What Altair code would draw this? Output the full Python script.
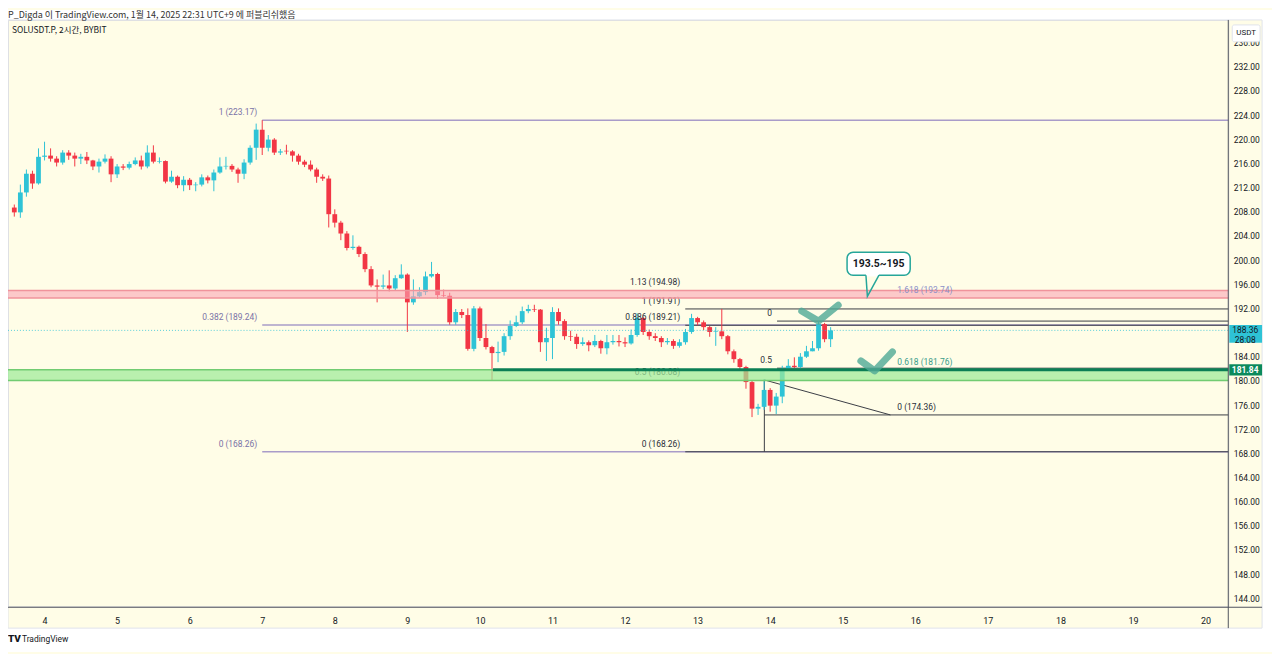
import altair as alt
import pandas as pd

HEADER = "P_Digda 이 TradingView.com, 1월 14, 2025 22:31 UTC+9 에 퍼블리쉬했음"
SYMBOL = "SOLUSDT.P, 2시간, BYBIT"
CALLOUT = "193.5~195"

START_DAY = 3 + 7 / 12   # first 2h candle
STEP_DAY = 1 / 12        # 2 hours

opens = [
    208.7, 207.9, 211.2, 214.3, 212.7, 217.1, 217.3, 216.8, 216.15, 217.8,
    217.3, 216.8, 217.1, 216.5, 215.5, 216.3, 216.8, 214.2, 215.5, 215.3,
    215.9, 216.5, 215.5, 217.8, 216.3, 216.4, 213.0, 213.8, 212.4, 213.3,
    212.4, 212.5, 213.7, 213.2, 214.5, 215.5, 215.6, 215.0, 214.3, 216.15,
    218.6, 221.6, 218.6, 219.95, 217.8, 218.1, 218.0, 217.3, 216.3, 215.8,
    215.0, 213.8, 213.5, 207.6, 206.2, 204.4, 202.0, 202.2, 201.0, 198.5,
    195.8, 195.6, 195.8, 195.3, 197.0, 197.6, 193.0, 194.0, 194.7, 197.3,
    197.7, 194.2, 194.1, 189.7, 191.4, 190.9, 185.3, 192.0, 187.1, 185.6,
    184.6, 184.8, 187.4, 189.1, 189.7, 191.55, 191.9, 191.8, 186.4, 187.1,
    191.4, 189.9, 187.4, 187.3, 186.1, 186.4, 185.9, 186.6, 185.4, 186.4,
    186.6, 186.4, 186.2, 187.6, 190.4, 188.1, 187.4, 187.1, 186.4, 186.6,
    185.8, 186.4, 188.1, 190.4, 189.7, 188.9, 188.1, 188.2, 187.4, 184.9,
    183.6, 182.3, 179.8, 175.4, 175.7, 178.5, 175.9, 177.4, 182.0, 182.5,
    182.3, 184.0, 184.9, 185.4, 189.4, 186.9,
]
highs = [
    209.2, 212.5, 215.0, 214.8, 218.5, 219.6, 218.5, 217.2, 218.2, 218.2,
    217.8, 217.6, 217.9, 216.6, 216.8, 217.5, 217.2, 215.9, 215.9, 216.3,
    217.0, 217.3, 219.0, 219.0, 217.0, 216.5, 214.8, 214.0, 213.9, 213.6,
    212.9, 214.2, 214.0, 215.0, 217.0, 217.1, 215.9, 215.3, 216.7, 219.0,
    222.6, 223.17, 220.7, 220.2, 218.4, 219.1, 218.2, 217.6, 216.6, 216.5,
    215.3, 214.2, 214.0, 208.4, 206.5, 204.8, 204.1, 202.4, 201.3, 199.0,
    196.8, 197.6, 198.3, 197.5, 199.3, 197.8, 196.8, 195.5, 198.1, 199.7,
    197.9, 195.1, 194.6, 191.9, 191.9, 192.0, 192.4, 192.3, 189.4, 185.8,
    186.5, 187.9, 190.0, 190.8, 192.3, 192.6, 192.6, 191.9, 188.8, 192.2,
    192.0, 190.2, 188.3, 187.8, 187.2, 186.7, 187.6, 186.8, 187.6, 187.6,
    187.6, 187.2, 188.5, 191.2, 190.6, 188.5, 187.9, 187.4, 187.1, 186.9,
    186.9, 188.6, 191.1, 190.6, 190.0, 189.1, 188.9, 191.91, 187.6, 185.2,
    183.8, 182.5, 180.0, 176.2, 180.3, 178.8, 178.0, 182.5, 183.6, 183.9,
    184.6, 185.8, 186.6, 189.9, 189.6, 188.9,
]
lows = [
    207.2, 207.0, 210.5, 211.8, 212.5, 216.5, 216.3, 215.5, 215.8, 216.6,
    215.5, 215.9, 215.9, 214.9, 214.5, 216.0, 212.9, 213.6, 214.9, 215.0,
    215.7, 215.0, 215.2, 216.0, 216.0, 212.7, 212.8, 211.9, 211.4, 211.6,
    211.4, 212.2, 212.7, 211.4, 214.3, 215.0, 214.6, 212.8, 213.4, 215.8,
    216.6, 217.4, 218.0, 217.4, 217.4, 217.5, 216.3, 215.8, 215.4, 214.7,
    212.8, 213.1, 205.4, 205.4, 203.3, 201.6, 201.7, 200.5, 198.0, 195.5,
    193.0, 195.2, 194.8, 194.9, 196.9, 188.1, 192.6, 193.8, 194.2, 197.1,
    193.6, 193.9, 189.3, 189.3, 190.4, 185.0, 184.9, 186.6, 185.2, 180.06,
    183.1, 184.2, 186.8, 188.9, 189.4, 191.2, 191.4, 184.8, 183.3, 183.6,
    189.3, 186.8, 186.6, 185.3, 185.8, 184.9, 185.6, 184.5, 184.4, 186.0,
    185.7, 185.6, 186.0, 187.3, 187.6, 186.8, 186.6, 185.6, 186.0, 185.3,
    185.5, 186.0, 187.8, 189.2, 188.4, 187.3, 185.8, 186.9, 184.4, 183.0,
    181.9, 178.7, 174.0, 174.36, 175.2, 174.9, 174.5, 176.3, 181.8, 181.9,
    181.9, 183.8, 184.9, 185.0, 186.4, 185.6,
]
closes = [
    207.9, 211.2, 214.3, 212.7, 217.1, 217.3, 216.8, 216.15, 217.8, 217.3,
    216.8, 217.1, 216.5, 215.5, 216.3, 216.8, 214.2, 215.5, 215.3, 215.9,
    216.5, 215.5, 217.8, 216.3, 216.4, 213.0, 213.8, 212.4, 213.3, 212.4,
    212.5, 213.7, 213.2, 214.5, 215.5, 215.6, 215.0, 214.3, 216.15, 218.6,
    221.6, 218.6, 219.95, 217.8, 218.0, 218.0, 217.3, 216.3, 215.8, 215.0,
    213.8, 213.5, 207.6, 206.2, 204.4, 202.0, 202.2, 201.0, 198.5, 195.8,
    195.6, 195.8, 195.3, 197.0, 197.6, 193.0, 194.0, 194.7, 197.3, 197.7,
    194.2, 194.1, 189.7, 191.4, 190.9, 185.3, 192.0, 187.1, 185.6, 184.6,
    184.8, 187.4, 189.1, 189.7, 191.55, 191.9, 191.8, 186.4, 187.1, 191.4,
    189.9, 187.4, 187.3, 186.1, 186.4, 185.9, 186.6, 185.4, 186.4, 186.6,
    186.4, 186.2, 187.6, 190.4, 188.1, 187.4, 187.1, 186.4, 186.6, 185.8,
    186.4, 188.1, 190.4, 189.7, 188.9, 188.1, 188.2, 187.4, 184.9, 183.6,
    182.3, 179.8, 175.4, 175.7, 178.5, 175.9, 177.4, 182.0, 182.5, 182.3,
    184.0, 184.9, 185.4, 189.4, 186.9, 188.36,
]

# Fib tools / annotations (day, price)
fibA_day = 7.0
fibA_ratios = ["1", "0.382", "0"]
fibA_levels = [223.17, 189.24, 168.26]

fibB_day = 12.83
fibB_ratios = ["1.13", "1", "0.886", "0.5", "0"]
fibB_levels = [194.98, 191.91, 189.21, 180.08, 168.26]
fibB_line_levels = [191.91, 189.21, 168.26]

fibC_day = 14.095
fibC_ratios = ["0", "0.5"]
fibC_levels = [189.9, 182.1]

fibD_start = (13.92, 180.16)
fibD_end = (15.657, 174.36)
fibD_levels = [174.36, 181.76, 193.74]
fibD_ratios = ["0", "0.618", "1.618"]

red_zone = (194.98, 193.74)
green_zone = (181.84, 180.08)
green_line_day = 10.18
green_line_level = 181.84
last_price = 188.36
countdown = "28:08"

callout_box = (15.06, 15.93, 201.3, 197.5)
callout_tail_x = [15.32, 15.34, 15.50]
callout_tail_p = [197.5, 194.0, 197.5]

check1_x = [14.435, 14.666, 14.938]
check1_p = [191.55, 189.9, 192.54]
check2_x = [15.25, 15.44, 15.685]
check2_p = [183.3, 181.65, 184.8]

x_ticks = list(range(4, 21))
# 188.00 sits under the last-price label, so it is not drawn
y_ticks = [v for v in range(144, 240, 4) if v != 188]

# ---------------------------------------------------------------
UP = "#2ec3d6"
DN = "#f23645"
LAV = "#a99cc9"
LAVTXT = "#7a72a6"
INK = "#131722"
CREAM = "#fffde7"
FONT = "Roboto"

PW, PH = 1228, 590
xs = alt.Scale(domain=[3.565, 20.245], nice=False, zero=False)
ys = alt.Scale(domain=[142.68, 239.76], nice=False, zero=False)
AX = alt.Axis(values=x_ticks, format="d", ticks=False, domain=False, grid=False,
              labelPadding=10, labelFontSize=9, labelColor=INK, labelFont=FONT,
              title=None, orient="bottom")
AY = alt.Axis(values=y_ticks, format=".2f", ticks=False, domain=False, grid=False,
              labelPadding=5, labelFontSize=8.5, labelColor=INK, labelFont=FONT,
              title=None, orient="right", labelAlign="left")


def X(f):
    return alt.X(f, type="quantitative", scale=xs, axis=AX)


def Y(f):
    return alt.Y(f, type="quantitative", scale=ys, axis=AY)


one = pd.DataFrame({"k": [0]})

df = pd.DataFrame({"o": opens, "h": highs, "l": lows, "c": closes})
df["t"] = [START_DAY + i * STEP_DAY for i in range(len(df))]
candle_color = alt.condition("datum.c >= datum.o", alt.value(UP), alt.value(DN))

# white areas outside the chart frame (chart background itself is cream)
white_top = alt.Chart(one).mark_rect(color="white").encode(
    x=alt.value(0), x2=alt.value(1272), y=alt.value(-10), y2=alt.value(0))
white_bot = alt.Chart(one).mark_rect(color="white").encode(
    x=alt.value(0), x2=alt.value(1272), y=alt.value(612), y2=alt.value(636))
white_right = alt.Chart(one).mark_rect(color="white").encode(
    x=alt.value(1262), x2=alt.value(1272), y=alt.value(-10), y2=alt.value(636))

dfA = pd.DataFrame({"t": [fibA_day] * 3, "p": fibA_levels,
                    "lab": [f"{r} ({v:.2f})" for r, v in zip(fibA_ratios, fibA_levels)]})
linesA = alt.Chart(dfA).mark_rule(color=LAV, strokeWidth=1.5).encode(
    x=X("t"), x2=alt.value(PW), y=Y("p"))
textA = alt.Chart(dfA).mark_text(align="right", dx=-5, dy=-8, fontSize=8.5,
                                 font=FONT, color=LAVTXT).encode(x=X("t"), y=Y("p"), text="lab")

dfB = pd.DataFrame({"t": [fibB_day] * len(fibB_levels), "p": fibB_levels,
                    "lab": [f"{r} ({v:.2f})" for r, v in zip(fibB_ratios, fibB_levels)]})
dfBl = pd.DataFrame({"t": [fibB_day] * len(fibB_line_levels), "p": fibB_line_levels})
linesB = alt.Chart(dfBl).mark_rule(color="#3a3d45", strokeWidth=1).encode(
    x=X("t"), x2=alt.value(PW), y=Y("p"))
textB = alt.Chart(dfB).mark_text(align="right", dx=-5, dy=-8, fontSize=8.5,
                                 font=FONT, color="#2a2e39").encode(x=X("t"), y=Y("p"), text="lab")

dfC = pd.DataFrame({"t": [fibC_day] * 2, "p": fibC_levels, "lab": fibC_ratios})
linesC = alt.Chart(dfC).mark_rule(color="#3a3d45", strokeWidth=1).encode(
    x=X("t"), x2=alt.value(PW), y=Y("p"))
textC = alt.Chart(dfC).mark_text(align="right", dx=-5, dy=-8, fontSize=8.5,
                                 font=FONT, color="#2a2e39").encode(x=X("t"), y=Y("p"), text="lab")

dfD = pd.DataFrame({"t": [fibD_end[0]] * 3, "p": fibD_levels,
                    "lab": [f"{r} ({v:.2f})" for r, v in zip(fibD_ratios, fibD_levels)],
                    "col": ["#2a2e39", "#3a9c8a", "#8c8fc8"]})
textD = alt.Chart(dfD).mark_text(align="left", dx=7, dy=-8, fontSize=8.5, font=FONT).encode(
    x=X("t"), y=Y("p"), text="lab", color=alt.Color("col:N", scale=None))
lineD0 = alt.Chart(pd.DataFrame({"t": [fibD_start[0]], "p": [fibD_levels[0]]})).mark_rule(
    color="#3a3d45", strokeWidth=1).encode(x=X("t"), x2=alt.value(PW), y=Y("p"))
diag = alt.Chart(pd.DataFrame({"t": [fibD_start[0], fibD_end[0]],
                               "p": [fibD_start[1], fibD_end[1]]})).mark_line(
    color="#3a3d45", strokeWidth=1).encode(x=X("t"), y=Y("p"))
vert = alt.Chart(pd.DataFrame({"t": [fibD_start[0]], "p1": [fibD_start[1]],
                               "p2": [fibA_levels[2]]})).mark_rule(
    color="#3a3d45", strokeWidth=1).encode(x=X("t"), y=Y("p1"), y2="p2")

wick = alt.Chart(df).mark_rule(strokeWidth=1).encode(
    x=X("t"), y=Y("l"), y2="h", color=candle_color)
body = alt.Chart(df).mark_bar(size=4.8).encode(
    x=X("t"), y=Y("o"), y2="c", color=candle_color)

priceline = alt.Chart(pd.DataFrame({"p": [last_price]})).mark_rule(
    color=UP, strokeDash=[1, 2], strokeWidth=1, opacity=0.8).encode(
    x=alt.value(0), x2=alt.value(PW), y=Y("p"))

zones = pd.DataFrame({"top": [red_zone[0], green_zone[0]], "bot": [red_zone[1], green_zone[1]],
                      "fill": ["#faa6b5", "#9eea98"], "edge": ["#f0939b", "#72cc72"],
                      "op": [0.6, 0.72]})
zone_fill = alt.Chart(zones).mark_rect().encode(
    x=alt.value(0), x2=alt.value(PW), y=Y("top"), y2="bot",
    color=alt.Color("fill:N", scale=None), opacity=alt.Opacity("op:Q", scale=None))
zone_top = alt.Chart(zones).mark_rule(strokeWidth=1.5).encode(
    x=alt.value(0), x2=alt.value(PW), y=Y("top"), color=alt.Color("edge:N", scale=None))
zone_bot = alt.Chart(zones).mark_rule(strokeWidth=1.5).encode(
    x=alt.value(0), x2=alt.value(PW), y=Y("bot"), color=alt.Color("edge:N", scale=None))

gline = alt.Chart(pd.DataFrame({"t": [green_line_day], "p": [green_line_level]})).mark_rule(
    color="#0b7f55", strokeWidth=3).encode(x=X("t"), x2=alt.value(PW), y=Y("p"))

cb = pd.DataFrame({"x1": [callout_box[0]], "x2": [callout_box[1]],
                   "p1": [callout_box[2]], "p2": [callout_box[3]],
                   "xm": [(callout_box[0] + callout_box[1]) / 2],
                   "pm": [(callout_box[2] + callout_box[3]) / 2], "lab": [CALLOUT]})
cbox = alt.Chart(cb).mark_rect(fill="white", stroke="#26a69a", strokeWidth=1.5,
                               cornerRadius=6).encode(x=X("x1"), x2="x2", y=Y("p1"), y2="p2")
ctail_cover = alt.Chart(pd.DataFrame({"t1": [callout_tail_x[0]], "t2": [callout_tail_x[2]],
                                      "p": [callout_tail_p[0]]})).mark_rule(
    color="white", strokeWidth=2.5).encode(x=X("t1"), x2="t2", y=Y("p"))
ctail = alt.Chart(pd.DataFrame({"t": callout_tail_x, "p": callout_tail_p,
                                "o": [0, 1, 2]})).mark_line(
    color="#26a69a", strokeWidth=1.5).encode(x=X("t"), y=Y("p"), order="o:Q")
ctext = alt.Chart(cb).mark_text(fontSize=10.5, fontWeight="bold", font=FONT, color=INK).encode(
    x=X("xm"), y=Y("pm"), text="lab")

chk = pd.DataFrame({"t": check1_x + check2_x, "p": check1_p + check2_p,
                    "g": [1, 1, 1, 2, 2, 2], "o": [0, 1, 2, 0, 1, 2]})
checks = alt.Chart(chk).mark_line(color="#4fa996", strokeWidth=7, opacity=0.8,
                                  strokeCap="round", strokeJoin="round").encode(
    x=X("t"), y=Y("p"), detail="g:N", order="o:Q")

sep = alt.Chart(one).mark_rule(color="#50535e", strokeWidth=1).encode(
    x=alt.value(PW), y=alt.value(0), y2=alt.value(612))
xline = alt.Chart(one).mark_rule(color="#50535e", strokeWidth=1).encode(
    x=alt.value(0), x2=alt.value(1262), y=alt.value(PH + 1))
frame = alt.Chart(one).mark_rect(filled=False, stroke="#e0e3eb", strokeWidth=1).encode(
    x=alt.value(0), x2=alt.value(1262), y=alt.value(0), y2=alt.value(612))

usdt_box = alt.Chart(one).mark_rect(fill="white", stroke="#e0e3eb", cornerRadius=2).encode(
    x=alt.value(1232), x2=alt.value(1260), y=alt.value(5), y2=alt.value(22))
usdt_txt = alt.Chart(one).mark_text(fontSize=8, font=FONT, color=INK).encode(
    x=alt.value(1246), y=alt.value(13), text=alt.value("USDT"))

lp = pd.DataFrame({"p": [last_price], "lab": [f"{last_price:.2f}"], "cd": [countdown]})
lp_box = alt.Chart(lp).transform_calculate(p1="datum.p + 0.91", p2="datum.p - 2.06").mark_rect(
    color=UP).encode(x=alt.value(PW + 1), x2=alt.value(1262), y=Y("p1:Q"), y2="p2:Q")
lp_txt = alt.Chart(lp).mark_text(fontSize=8.5, font=FONT, color=INK).encode(
    x=alt.value(PW + 17), y=Y("p"), text="lab")
lp_cd = alt.Chart(lp).mark_text(fontSize=8.5, font=FONT, color=INK, dy=10).encode(
    x=alt.value(PW + 17), y=Y("p"), text="cd")

gp = pd.DataFrame({"p": [green_line_level], "lab": [f"{green_line_level:.2f}"]})
gp_box = alt.Chart(gp).transform_calculate(p1="datum.p + 0.9", p2="datum.p - 0.95").mark_rect(
    color="#0b8a5c").encode(x=alt.value(PW + 1), x2=alt.value(1262), y=Y("p1:Q"), y2="p2:Q")
gp_txt = alt.Chart(gp).mark_text(fontSize=8.5, font=FONT, color="white", fontWeight="bold").encode(
    x=alt.value(PW + 17), y=Y("p"), text="lab")

header = alt.Chart(one).mark_text(align="left", fontSize=9, font="Noto Sans CJK KR",
                                  color="#333333").encode(
    x=alt.value(0), y=alt.value(-4.5), text=alt.value(HEADER))
symbol = alt.Chart(one).mark_text(align="left", fontSize=8.5, font="Noto Sans CJK KR",
                                  color=INK).encode(
    x=alt.value(4), y=alt.value(10), text=alt.value(SYMBOL))
logo = alt.Chart(one).mark_text(align="left", fontSize=10, fontWeight=900, font=FONT,
                                color=INK).encode(
    x=alt.value(0), y=alt.value(623), text=alt.value("TV"))
logo_txt = alt.Chart(one).mark_text(align="left", fontSize=8.5, font=FONT, color=INK).encode(
    x=alt.value(14), y=alt.value(623), text=alt.value("TradingView"))

chart = alt.layer(
    white_top, white_bot, white_right, frame,
    linesA, linesB, linesC, lineD0, vert, diag,
    wick, body, priceline, textB,
    zone_fill, zone_top, zone_bot, gline,
    textA, textC, textD,
    cbox, ctail_cover, ctail, ctext, checks,
    sep, xline, usdt_box, usdt_txt, lp_box, lp_txt, lp_cd, gp_box, gp_txt,
    header, symbol, logo, logo_txt,
).properties(
    width=PW, height=PH,
    autosize=alt.AutoSizeParams(type="none"),
    padding={"left": 0, "top": 10, "right": 44, "bottom": 46},
).configure_view(stroke=None).configure(background=CREAM)

chart.save("out.html", embed_options={"renderer": "svg", "actions": False})
